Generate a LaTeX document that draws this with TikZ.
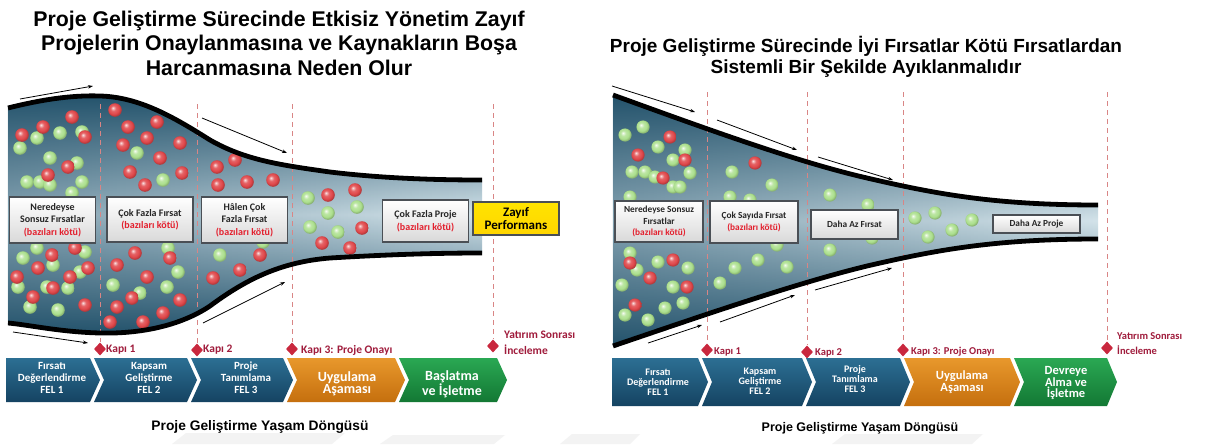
\documentclass[tikz,border=0pt]{standalone}
\usepackage{fontspec}
\setmainfont{Liberation Sans}
\newfontfamily\calfont{Carlito}
\usetikzlibrary{arrows.meta,fadings,shapes.geometric}
\definecolor{fdark}{HTML}{24536C}
\definecolor{flight}{HTML}{D3E3EA}
\definecolor{bred}{HTML}{E0474A}
\definecolor{bgreen}{HTML}{ABDF8C}
\definecolor{gatered}{HTML}{A01C3C}
\definecolor{dashred}{HTML}{D98585}
\definecolor{cblueA}{HTML}{2C6F93}
\definecolor{cblueB}{HTML}{154362}
\definecolor{corA}{HTML}{E8982C}
\definecolor{corB}{HTML}{C56F0E}
\definecolor{cgrA}{HTML}{2AA853}
\definecolor{cgrB}{HTML}{137834}
\definecolor{badred}{HTML}{E3202E}
\definecolor{zyellow}{HTML}{FFE400}
\definecolor{boxedge}{HTML}{4A4F55}
\definecolor{dmred}{HTML}{C9283E}
\definecolor{wmark}{HTML}{F3F3F3}
\pgfdeclareradialshading{redsph}{\pgfpoint{-8bp}{8bp}}{color(0bp)=(bred!15!white); color(10bp)=(bred!85!white); color(20bp)=(bred); color(26bp)=(bred!80!black); color(50bp)=(bred!70!black)}
\pgfdeclareradialshading{greensph}{\pgfpoint{-8bp}{8bp}}{color(0bp)=(bgreen!10!white); color(10bp)=(bgreen!80!white); color(20bp)=(bgreen); color(26bp)=(bgreen!80!black); color(50bp)=(bgreen!65!black)}
\tikzfading[name=fadeleft, left color=transparent!0, right color=transparent!100]
\newcommand\chevshape[7]{\shade[#7] (#1,#3) -- (#2,#3) -- ({#2+10},#4) -- (#2,#5) -- (#1,#5) -- ({#1+#6},#4) -- cycle;}
\def\lefttop{(8,108) .. controls (40,100) and (70,95) .. (100,96) .. controls (140,97) and (175,118) .. (210,140) .. controls (245,160) and (280,165) .. (330,172) .. controls (380,178) and (430,180) .. (482,180)}
\def\leftbot{(482,253) .. controls (430,253) and (380,255) .. (330,258) .. controls (280,262) and (245,280) .. (210,306) .. controls (180,326) and (140,334) .. (100,333) .. controls (60,332) and (30,325) .. (8,323)}
\def\righttop{(613,95) .. controls (704,128) and (797,162) .. (867,178) .. controls (936,194) and (994,205) .. (1098,205)}
\def\rightbot{(1098,239) .. controls (994,239) and (936,250) .. (867,266) .. controls (797,283) and (704,315) .. (613,346)}
\begin{document}
\begin{tikzpicture}[x=1pt,y=-1pt,
  titletext/.style={font=\bfseries\fontsize{21.3}{24.5}\selectfont, align=center, inner sep=0},
  subtext/.style={font=\bfseries\fontsize{13.8}{16}\selectfont, inner sep=0},
  edge/.style={line width=4.8, black},
  dashline/.style={dashred, line width=1, dash pattern=on 5 off 4},
  gate/.style={diamond, fill=dmred, minimum width=12, minimum height=13, inner sep=0},
  gatetext/.style={font=\calfont\bfseries\fontsize{11.5}{16}\selectfont, text=gatered, anchor=west, inner sep=0, align=left},
  gatetextR/.style={gatetext, font=\calfont\bfseries\fontsize{10.5}{15}\selectfont},
  boxL/.style={draw=boxedge, line width=1.4, top color=white, bottom color=black!15, align=center, inner sep=1,
     font=\calfont\bfseries\fontsize{10}{12.5}\selectfont, minimum width=86, text=black!85},
  boxR/.style={boxL, font=\calfont\bfseries\fontsize{9.3}{11.5}\selectfont, minimum width=88},
  chevblue/.style={top color=cblueA, bottom color=cblueB},
  chevor/.style={top color=corA, bottom color=corB},
  chevgr/.style={top color=cgrA, bottom color=cgrB},
  chevtxt/.style={text=white, align=center, inner sep=0, font=\calfont\bfseries\fontsize{11}{12}\selectfont},
  chevtxtbig/.style={chevtxt, font=\calfont\bfseries\fontsize{14}{12.5}\selectfont},
  chevtxtR/.style={chevtxt, font=\calfont\bfseries\fontsize{10}{10}\selectfont},
  chevtxtRbig/.style={chevtxt, font=\calfont\bfseries\fontsize{12.5}{11.5}\selectfont},
  flow/.style={black, line width=0.8, -{Stealth[length=5pt,width=3.5pt]}},
  redball/.style={shading=redsph},
  greenball/.style={shading=greensph}]
\useasboundingbox (0,0) rectangle (1206,444);
\fill[white] (0,0) rectangle (1206,444);
% faint watermark
\fill[wmark] (172,444) -- (186,433) -- (345,433) -- (332,444) -- cycle;
\fill[wmark] (380,444) -- (393,435) -- (505,435) -- (494,444) -- cycle;
\fill[wmark] (560,444) -- (572,434) -- (640,434) -- (630,444) -- cycle;
\fill[wmark] (832,444) -- (845,434) -- (983,434) -- (972,444) -- cycle;
% titles
\node[titletext] (t1) at (279,43) {Proje Geliştirme Sürecinde Etkisiz Yönetim Zayıf\\Projelerin Onaylanmasına ve Kaynakların Boşa\\Harcanmasına Neden Olur};
\node[titletext, font=\bfseries\fontsize{19}{21}\selectfont] (t2) at (866,57) {Proje Geliştirme Sürecinde İyi Fırsatlar Kötü Fırsatlardan\\Sistemli Bir Şekilde Ayıklanmalıdır};
% funnels
\shade[top color=fdark, bottom color=fdark, middle color=flight] \lefttop -- \leftbot -- cycle;
\fill[fdark, path fading=fadeleft, fill opacity=0.45] \lefttop -- \leftbot -- cycle;
\shade[top color=fdark, bottom color=fdark, middle color=flight] \righttop -- \rightbot -- cycle;
\fill[fdark, path fading=fadeleft, fill opacity=0.45] \righttop -- \rightbot -- cycle;
% gates
\foreach \n/\x/\y in {g1/100/349, g2/197/350, g3/292/349, g4/493/346, h1/707/350, h2/807/352, h3/903/350, h4/1107/348}
  \node[gate] (\n) at (\x,\y) {};
\foreach \n/\x/\y in {g1/100/104, g2/197/104, g3/292/104, g4/493/104, h1/707/92, h2/807/92, h3/903/92, h4/1107/92}{
  \coordinate (\n top) at (\x,\y);
  \draw[dashline] (\n top) -- (\n.north);}
% balls left
\foreach \x/\y in {60/133, 37/138, 20/148, 82/132, 50/158, 77/163, 27/182, 40/182, 50/185, 82/182, 72/193, 137/153, 163/180, 308/198, 328/213, 357/207, 310/227, 338/232, 220/255, 263/242, 168/248, 178/272, 113/285, 140/293, 167/287, 23/258, 53/265, 18/287, 47/287, 68/288, 80/272, 30/307, 58/310, 37/248, 85/252}
  \shade[greenball] (\x,\y) circle (6.8);
\foreach \x/\y in {72/117, 115/110, 157/122, 43/127, 128/127, 22/135, 85/137, 147/138, 123/145, 180/143, 160/158, 68/167, 48/175, 130/172, 182/173, 145/185, 217/167, 235/160, 247/182, 273/180, 218/185, 328/195, 355/190, 362/228, 322/243, 350/248, 135/253, 170/258, 117/265, 147/277, 117/307, 132/298, 180/300, 110/322, 143/322, 163/313, 213/278, 240/270, 260/255, 52/255, 38/268, 17/277, 88/268, 70/277, 53/288, 33/297, 85/305, 75/248}
  \shade[redball] (\x,\y) circle (6.8);
% balls right
\foreach \x/\y in {625/135, 643/127, 658/147, 685/150, 673/160, 632/172, 645/172, 655/177, 690/173, 673/187, 680/187, 630/197, 732/172, 772/185, 730/197, 750/200, 830/195, 868/205, 915/218, 935/213, 952/230, 972/220, 928/237, 830/250, 872/238, 777/245, 758/260, 787/267, 735/268, 720/283, 630/253, 637/270, 658/262, 688/268, 622/285, 673/287, 665/308, 683/303, 625/315, 648/320}
  \shade[greenball] (\x,\y) circle (6.6);
\foreach \x/\y in {670/137, 638/155, 685/160, 663/178, 755/163, 630/263, 673/260, 650/278, 687/287, 635/305}
  \shade[redball] (\x,\y) circle (6.6);
% funnel edges
\draw[edge] \lefttop;
\draw[edge] \leftbot;
\draw[edge] \righttop;
\draw[edge] \rightbot;
% boxes left
\node[boxL, minimum height=46] (bl1) at (52.5,220) {Neredeyse\\Sonsuz Fırsatlar\\{\color{badred}(bazıları kötü)}};
\node[boxL, minimum height=45] (bl2) at (150,219.5) {Çok Fazla Fırsat\\{\color{badred}(bazıları kötü)}};
\node[boxL, minimum height=46] (bl3) at (244.5,220) {Hâlen Çok\\Fazla Fırsat\\{\color{badred}(bazıları kötü)}};
\node[boxL, minimum height=42] (bl4) at (425.5,221) {Çok Fazla Proje\\{\color{badred}(bazıları kötü)}};
\node[boxL, minimum height=33, top color=zyellow, bottom color=zyellow!85!orange, font=\calfont\bfseries\fontsize{13}{12.5}\selectfont, text=black] (bl5) at (516,218.5) {Zayıf\\Performans};
% boxes right
\node[boxR, minimum height=41] (br1) at (659,221.5) {Neredeyse Sonsuz\\Fırsatlar\\{\color{badred}(bazıları kötü)}};
\node[boxR, minimum height=42] (br2) at (754,222) {Çok Sayıda Fırsat\\{\color{badred}(bazıları kötü)}};
\node[boxR, minimum height=29, minimum width=87] (br3) at (854.5,224.5) {Daha Az Fırsat};
\node[boxR, minimum height=18, minimum width=87] (br4) at (1036.5,224) {Daha Az Proje};
% flow arrows
\foreach \n/\ax/\ay/\bx/\by in {a1/20/99/93/86, a2/202/118/287/153, a3/203/323/285/282, a4/13/332/88/343,
  b1/612/86/695/112, b2/717/120/797/150, b3/818/157/893/180, b4/648/343/702/325, b5/720/322/795/295, b6/815/290/892/268}{
  \coordinate (\n s) at (\ax,\ay);
  \coordinate (\n e) at (\bx,\by);
  \draw[flow] (\n s) -- (\n e);}
% gate labels
\node[gatetext] (k1) at (106,350) {Kapı 1};
\node[gatetext] (k2) at (203,350) {Kapı 2};
\node[gatetext] (k3) at (301,350) {Kapı 3: Proje Onayı};
\node[gatetext, anchor=north west] (k4) at (504,331) {Yatırım Sonrası\\İnceleme};
\node[gatetextR] (m1) at (714,352) {Kapı 1};
\node[gatetextR] (m2) at (815,353) {Kapı 2};
\node[gatetextR] (m3) at (911,352) {Kapı 3: Proje Onayı};
\node[gatetextR, anchor=north west] (m4) at (1117,332) {Yatırım Sonrası\\İnceleme};
% chevrons left
\chevshape{6}{90}{358}{380}{402}{0}{chevblue}
\chevshape{94}{187}{358}{380}{402}{10}{chevblue}
\chevshape{191}{283}{358}{380}{402}{10}{chevblue}
\chevshape{287}{395}{358}{380}{402}{10}{chevor}
\chevshape{399}{497}{358}{380}{402}{10}{chevgr}
\node[chevtxt] (c1) at (52,378) {Fırsatı\\Değerlendirme\\FEL 1};
\node[chevtxt] (c2) at (149,378) {Kapsam\\Geliştirme\\FEL 2};
\node[chevtxt] (c3) at (246,378) {Proje\\Tanımlama\\FEL 3};
\node[chevtxtbig] (c4) at (347,384) {Uygulama\\Aşaması};
\node[chevtxtbig] (c5) at (452,384) {Başlatma\\ve İşletme};
% chevrons right
\chevshape{612}{698}{358}{382}{406}{0}{chevblue}
\chevshape{702}{802}{358}{382}{406}{10}{chevblue}
\chevshape{806}{900}{358}{382}{406}{10}{chevblue}
\chevshape{904}{1010}{358}{382}{406}{10}{chevor}
\chevshape{1014}{1107}{358}{382}{406}{10}{chevgr}
\node[chevtxtR] (d1) at (658,382) {Fırsatı\\Değerlendirme\\FEL 1};
\node[chevtxtR] (d2) at (760,381) {Kapsam\\Geliştirme\\FEL 2};
\node[chevtxtR] (d3) at (855,379) {Proje\\Tanımlama\\FEL 3};
\node[chevtxtRbig] (d4) at (962,382) {Uygulama\\Aşaması};
\node[chevtxtRbig] (d5) at (1066,383) {Devreye\\Alma ve\\İşletme};
% subtitles
\node[subtext] (s1) at (260,427) {Proje Geliştirme Yaşam Döngüsü};
\node[subtext, font=\bfseries\fontsize{12.5}{15}\selectfont] (s2) at (860,428) {Proje Geliştirme Yaşam Döngüsü};
\end{tikzpicture}
\end{document}
